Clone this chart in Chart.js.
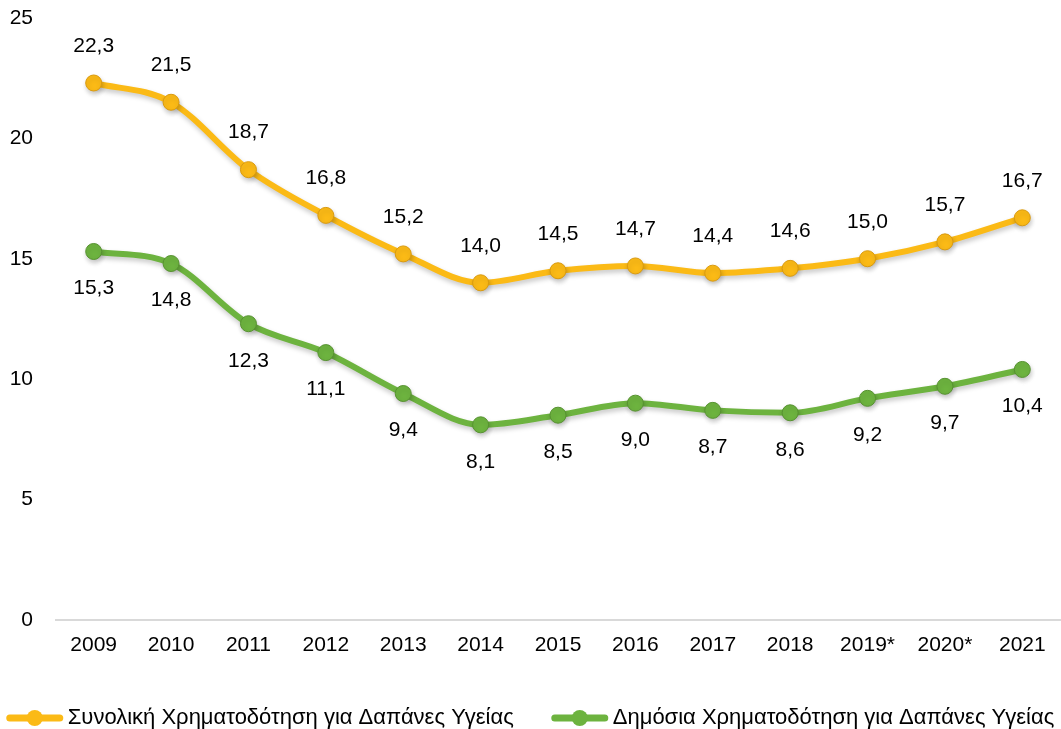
<!DOCTYPE html>
<html>
<head>
<meta charset="utf-8">
<script src="https://cdn.jsdelivr.net/npm/chart.js@4.4.0/dist/chart.umd.min.js"></script>
<style>
  html, body { margin: 0; padding: 0; background: #fff; overflow: hidden; }
  #wrap { width: 1061px; height: 729px; }
</style>
</head>
<body>
<div id="wrap"><canvas id="myChart"></canvas></div>
<script>
const years = ['2009', '2010', '2011', '2012', '2013', '2014', '2015', '2016', '2017', '2018', '2019*', '2020*', '2021'];
const totalFunding = [22.3, 21.5, 18.7, 16.8, 15.2, 14.0, 14.5, 14.7, 14.4, 14.6, 15.0, 15.7, 16.7];
const publicFunding = [15.3, 14.8, 12.3, 11.1, 9.4, 8.1, 8.5, 9.0, 8.7, 8.6, 9.2, 9.7, 10.4];
const yTicks = [0, 5, 10, 15, 20, 25];

const orange = '#FBBA16';
const green = '#6DB33F';
const font = 'Liberation Sans, Arial, sans-serif';

// soft shadow under lines and points
const softShadow = {
  id: 'softShadow',
  beforeDatasetDraw(chart) {
    const ctx = chart.ctx;
    ctx.save();
    ctx.shadowColor = 'rgba(0,0,0,0.22)';
    ctx.shadowBlur = 5;
    ctx.shadowOffsetX = 1;
    ctx.shadowOffsetY = 3;
  },
  afterDatasetDraw(chart) {
    chart.ctx.restore();
  }
};

// value labels, above for the first series, below for the second
const valueLabels = {
  id: 'valueLabels',
  afterDatasetsDraw(chart) {
    const ctx = chart.ctx;
    ctx.save();
    ctx.font = '21px ' + font;
    ctx.fillStyle = '#000';
    ctx.textAlign = 'center';
    ctx.textBaseline = 'middle';
    chart.data.datasets.forEach((ds, i) => {
      const meta = chart.getDatasetMeta(i);
      meta.data.forEach((pt, j) => {
        const txt = ds.data[j].toFixed(1).replace('.', ',');
        const dy = i === 0 ? -37 : 37;
        ctx.fillText(txt, pt.x, pt.y + dy);
      });
    });
    ctx.restore();
  }
};

// bottom legend: line with a dot, then the series name
const lineLegend = {
  id: 'lineLegend',
  afterDraw(chart) {
    const ctx = chart.ctx;
    const y = 718;
    const iconW = 56, gap = 5, spacing = 38;
    ctx.save();
    ctx.font = '22px ' + font;
    const items = chart.data.datasets.map(ds => ({
      color: ds.borderColor, text: ds.label, w: ctx.measureText(ds.label).width
    }));
    let total = 0;
    items.forEach((it, i) => { total += iconW + gap + it.w + (i ? spacing : 0); });
    let x = (chart.width - total) / 2;
    items.forEach(it => {
      ctx.strokeStyle = it.color;
      ctx.lineWidth = 7;
      ctx.lineCap = 'round';
      ctx.beginPath();
      ctx.moveTo(x + 3, y);
      ctx.lineTo(x + iconW - 3, y);
      ctx.stroke();
      ctx.fillStyle = it.color;
      ctx.beginPath();
      ctx.arc(x + iconW / 2, y, 8, 0, Math.PI * 2);
      ctx.fill();
      ctx.fillStyle = '#000';
      ctx.textAlign = 'left';
      ctx.textBaseline = 'middle';
      ctx.fillText(it.text, x + iconW + gap, y);
      x += iconW + gap + it.w + spacing;
    });
    ctx.restore();
  }
};

function makeChart() {
  const ctx = document.getElementById('myChart').getContext('2d');
  return new Chart(ctx, {
    type: 'line',
    data: {
      labels: years,
      datasets: [{
        label: 'Συνολική Χρηματοδότηση για Δαπάνες Υγείας',
        data: totalFunding,
        borderColor: orange,
        backgroundColor: orange,
        borderWidth: 6,
        pointRadius: 8,
        pointBorderWidth: 1,
        pointBorderColor: '#D99A10',
        cubicInterpolationMode: 'monotone'
      }, {
        label: 'Δημόσια Χρηματοδότηση για Δαπάνες Υγείας',
        data: publicFunding,
        borderColor: green,
        backgroundColor: green,
        borderWidth: 6,
        pointRadius: 8,
        pointBorderWidth: 1,
        pointBorderColor: '#579231',
        cubicInterpolationMode: 'monotone'
      }]
    },
    options: {
      responsive: true,
      maintainAspectRatio: false,
      animation: false,
      layout: { autoPadding: false, padding: { top: 18, left: 0, right: 0, bottom: 58 } },
      plugins: {
        tooltip: { enabled: false },
        legend: { display: false }
      },
      scales: {
        x: {
          offset: true,
          afterFit(axis) { axis.paddingRight = 0; axis.paddingLeft = 0; },
          grid: { display: false, drawTicks: false },
          border: { display: false },
          ticks: { color: '#000', font: { size: 21, family: font }, padding: 13 }
        },
        y: {
          min: 0,
          max: 25,
          afterBuildTicks(axis) { axis.ticks = yTicks.map(v => ({ value: v })); },
          afterFit(axis) { axis.width = 55; axis.paddingTop = 0; axis.paddingBottom = 0; },
          border: { display: false },
          grid: {
            color: c => c.tick.value === 0 ? '#D9D9D9' : 'rgba(0,0,0,0)',
            lineWidth: 2,
            drawTicks: false
          },
          ticks: { color: '#000', font: { size: 21, family: font }, padding: 22 }
        }
      }
    },
    plugins: [softShadow, valueLabels, lineLegend]
  });
}

makeChart();
</script>
</body>
</html>
